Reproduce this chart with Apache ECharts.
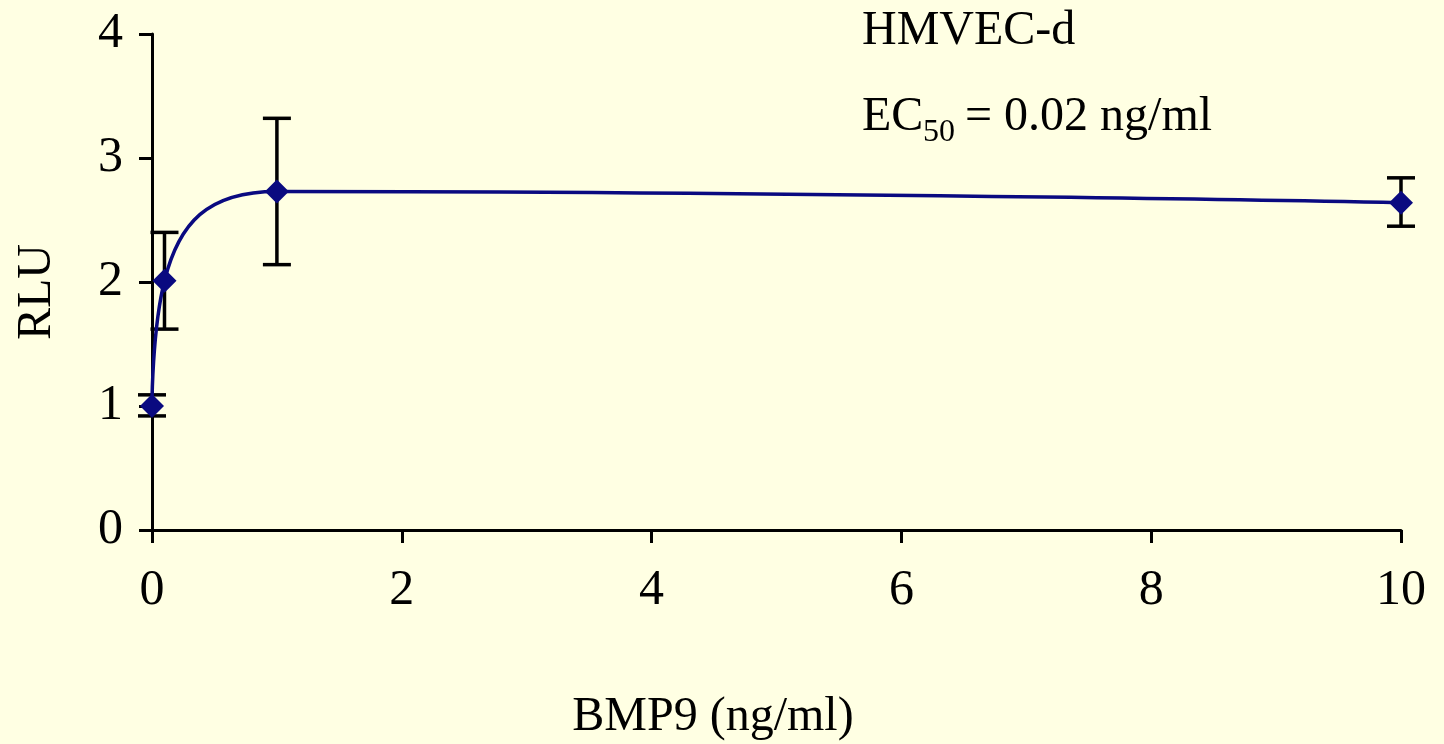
<!DOCTYPE html>
<html>
<head>
<meta charset="utf-8">
<script src="https://cdn.jsdelivr.net/npm/echarts@6/dist/echarts.min.js"></script>
<style>
html,body{margin:0;padding:0;background:#FFFFE3;}
#chart{width:1444px;height:744px;}
</style>
</head>
<body>
<div id="chart"></div>
<script>
// Data
const doses = [0, 0.1, 1, 10];          // BMP9 (ng/ml)
const rlu = [1.00, 2.01, 2.73, 2.64];   // mean RLU
const errLow = [0.92, 1.62, 2.14, 2.45];
const errHigh = [1.09, 2.40, 3.32, 2.84];
const xTicks = [0, 2, 4, 6, 8, 10];
const yTicks = [0, 1, 2, 3, 4];

const FONT = "'Liberation Serif', 'Times New Roman', serif";
const chart = echarts.init(document.getElementById('chart'), null, {renderer: 'canvas'});

const lineData = doses.map((d, i) => [d, rlu[i]]);
const errData = doses.map((d, i) => [d, errLow[i], errHigh[i]]);

const option = {
  backgroundColor: '#FFFFE3',
  animation: false,
  grid: {left: 152, right: 43, top: 34, bottom: 214, containLabel: false},
  xAxis: {
    type: 'value', min: xTicks[0], max: xTicks[xTicks.length - 1], interval: 2,
    axisLine: {show: true, onZero: false, lineStyle: {color: '#000', width: 3}},
    axisTick: {show: true, length: 13, lineStyle: {color: '#000', width: 3}},
    axisLabel: {color: '#000', fontSize: 50, fontFamily: FONT, margin: 36},
    splitLine: {show: false}
  },
  yAxis: {
    type: 'value', min: yTicks[0], max: yTicks[yTicks.length - 1], interval: 1,
    axisLine: {show: true, onZero: false, lineStyle: {color: '#000', width: 3}},
    axisTick: {show: true, length: 13, lineStyle: {color: '#000', width: 3}},
    axisLabel: {color: '#000', fontSize: 50, fontFamily: FONT, margin: 29},
    splitLine: {show: false}
  },
  series: [
    {
      type: 'custom',
      z: 3,
      data: errData,
      renderItem: function (params, api) {
        const x = api.value(0);
        const lo = api.coord([x, api.value(1)]);
        const hi = api.coord([x, api.value(2)]);
        const hw = 14;
        const st = {stroke: '#000', lineWidth: 3.5};
        return {
          type: 'group',
          children: [
            {type: 'line', shape: {x1: lo[0], y1: lo[1], x2: hi[0], y2: hi[1]}, style: st},
            {type: 'line', shape: {x1: lo[0] - hw, y1: lo[1], x2: lo[0] + hw, y2: lo[1]}, style: st},
            {type: 'line', shape: {x1: hi[0] - hw, y1: hi[1], x2: hi[0] + hw, y2: hi[1]}, style: st}
          ]
        };
      }
    },
    {
      type: 'line',
      z: 4,
      data: lineData,
      smooth: 0.5,
      symbol: 'diamond',
      symbolSize: 24,
      lineStyle: {color: '#0A0A80', width: 3.5},
      itemStyle: {color: '#0A0A80'}
    }
  ],
  graphic: [
    {type: 'text', left: 862, top: 7, style: {text: 'HMVEC-d', font: '48px ' + FONT, fill: '#000'}},
    {type: 'text', left: 862, top: 93, style: {text: 'EC', font: '48px ' + FONT, fill: '#000'}},
    {type: 'text', left: 923, top: 117, style: {text: '50', font: '32px ' + FONT, fill: '#000'}},
    {type: 'text', left: 965, top: 93, style: {text: '= 0.02 ng/ml', font: '48px ' + FONT, fill: '#000'}},
    {type: 'text', x: 37, y: 292, rotation: Math.PI / 2,
      style: {text: 'RLU', font: '48px ' + FONT, fill: '#000', align: 'center', verticalAlign: 'middle'}},
    {type: 'text', x: 713, y: 717,
      style: {text: 'BMP9 (ng/ml)', font: '48px ' + FONT, fill: '#000', align: 'center', verticalAlign: 'middle'}}
  ]
};
chart.setOption(option);
</script>
</body>
</html>
